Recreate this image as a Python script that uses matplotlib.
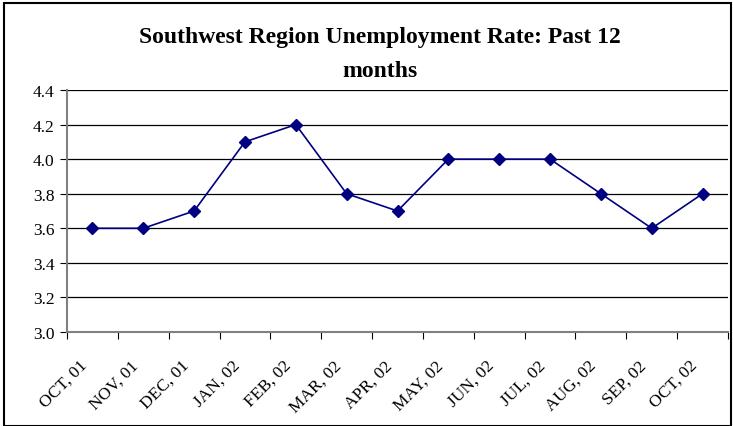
import matplotlib
matplotlib.use("Agg")
import matplotlib.pyplot as plt
from matplotlib.patches import Rectangle
import numpy as np

months = ["OCT, 01", "NOV, 01", "DEC, 01", "JAN, 02", "FEB, 02", "MAR, 02", "APR, 02",
          "MAY, 02", "JUN, 02", "JUL, 02", "AUG, 02", "SEP, 02", "OCT, 02"]
rate = [3.6, 3.6, 3.7, 4.1, 4.2, 3.8, 3.7, 4.0, 4.0, 4.0, 3.8, 3.6, 3.8]
yticks = [3.0, 3.2, 3.4, 3.6, 3.8, 4.0, 4.2, 4.4]
title_lines = ["Southwest Region Unemployment Rate: Past 12", "months"]

plt.rcParams['font.family'] = ['Liberation Serif', 'DejaVu Serif']

fig = plt.figure(figsize=(7.33, 4.27), dpi=100)
ax = fig.add_axes([67/733, 1 - 333/427, (728-67)/733, (333-91)/427])

x = np.arange(len(months))
ax.plot(x, rate, color='#000080', lw=1.2, marker='D', ms=6, mfc='#000080', mec='#000080')

ax.set_xlim(-0.5, len(months) - 0.5)
ax.set_ylim(3.0, 4.4)
ax.set_yticks(yticks)
ax.set_yticklabels([f"{v:.1f}" for v in yticks], fontsize=12.5)
ax.yaxis.grid(True, color='black', lw=0.9)
ax.set_axisbelow(True)

# category ticks sit between the points, labels under the points
ax.set_xticks(np.arange(-0.5, len(months)))
ax.set_xticklabels([])
ax.tick_params(axis='x', length=5, color='black', direction='out')
ax.tick_params(axis='y', length=5, color='black', direction='out', pad=4)
for i, m in enumerate(months):
    ax.annotate(m, xy=(i, 0), xycoords=ax.get_xaxis_transform(),
                xytext=(-13, -25), textcoords='offset pixels',
                rotation=45, ha='right', va='top', rotation_mode='anchor',
                fontsize=12.5, annotation_clip=False)

for s in ['top', 'right']:
    ax.spines[s].set_visible(False)
for s in ['left', 'bottom']:
    ax.spines[s].set_color('#808080')
    ax.spines[s].set_linewidth(1.5)

fig.text(380/733, 1 - 43/427, title_lines[0], ha='center', va='baseline',
         fontsize=17, fontweight='bold')
fig.text(380/733, 1 - 77/427, title_lines[1], ha='center', va='baseline',
         fontsize=17, fontweight='bold')

fig.patches.append(Rectangle((4/733, 0), 727/733, 1 - 4/427, transform=fig.transFigure,
                             fill=False, ec='black', lw=1.5))

fig.savefig("out.png", dpi=100)
